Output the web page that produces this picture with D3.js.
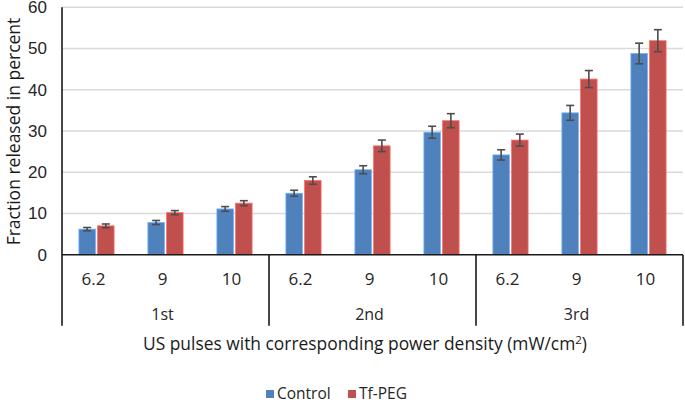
<!DOCTYPE html>
<html>
<head>
<meta charset="utf-8">
<script src="https://cdn.jsdelivr.net/npm/d3@7"></script>
<style>
  body { margin: 0; background: #fff; }
  svg { font-family: 'Open Sans', Lato, sans-serif; }
  .grid line { stroke: #d9d9d9; stroke-width: 1.5; }
  .axis text { fill: #262626; }
</style>
</head>
<body>
<div id="chart"></div>
<script>
const pulses = ['1st', '2nd', '3rd']
const densities = ['6.2', '9', '10']
const seriesNames = ['Control', 'Tf-PEG']
const controlValues = [6.2, 7.8, 11.1, 14.9, 20.6, 29.7, 24.2, 34.4, 48.8]
const controlErrors = [0.4, 0.5, 0.57, 0.73, 0.97, 1.45, 1.25, 1.8, 2.5]
const tfpegValues = [7.0, 10.2, 12.5, 18.0, 26.4, 32.5, 27.8, 42.6, 51.9]
const tfpegErrors = [0.45, 0.5, 0.6, 0.9, 1.4, 1.7, 1.45, 2.06, 2.67]
const yTickValues = [0, 10, 20, 30, 40, 50, 60]

const colors = { 'Control': '#4f81bd', 'Tf-PEG': '#c0504d' }

const width = 685
const height = 403
const margin = { top: 7.3, right: 2, bottom: 148.3, left: 62 }
const chartWidth = width - margin.left - margin.right
const chartHeight = height - margin.top - margin.bottom

// one entry per density within each pulse
const categories = []
pulses.forEach((p, gi) => densities.forEach((d, di) => {
  categories.push({ key: p + '-' + d, pulse: p, density: d, index: gi * densities.length + di })
}))

const series = [
  { name: 'Control', values: controlValues, errors: controlErrors },
  { name: 'Tf-PEG', values: tfpegValues, errors: tfpegErrors }
]

const svg = d3.select('#chart').append('svg')
  .attr('width', width)
  .attr('height', height)

const g = svg.append('g')
  .attr('transform', `translate(${margin.left},${margin.top})`)

const xScale = d3.scaleBand()
  .domain(categories.map((c) => c.key))
  .range([0, chartWidth])

const groupScale = d3.scaleBand()
  .domain(pulses)
  .range([0, chartWidth])

const barWidth = xScale.bandwidth() * 0.225
const barGap = xScale.bandwidth() * 0.06
const inner = d3.scaleBand()
  .domain(seriesNames)
  .range([xScale.bandwidth() / 2 - barWidth - barGap / 2, xScale.bandwidth() / 2 + barWidth + barGap / 2])
  .paddingInner(barGap / (2 * barWidth + barGap))

const yScale = d3.scaleLinear()
  .domain([0, 60])
  .range([chartHeight, 0])

// grid lines
g.append('g').attr('class', 'grid')
  .selectAll('line')
  .data(yTickValues.filter((d) => d > 0))
  .enter().append('line')
  .attr('x1', 0)
  .attr('x2', chartWidth)
  .attr('y1', (d) => yScale(d))
  .attr('y2', (d) => yScale(d))

// y axis
const yAxis = d3.axisLeft(yScale)
  .tickValues(yTickValues)
  .tickSize(0)
  .tickPadding(15)

g.append('g').attr('class', 'axis y')
  .call(yAxis)
  .call((s) => s.select('.domain').remove())
  .selectAll('text')
  .style('font-size', '17px')

// bars
const seriesGroups = g.append('g').attr('class', 'chart-group')
  .selectAll('.series')
  .data(series)
  .enter().append('g')
  .attr('class', 'series')

seriesGroups.selectAll('rect')
  .data((s) => s.values.map((v, i) => ({ name: s.name, value: v, err: s.errors[i], key: categories[i].key })))
  .enter().append('rect')
  .attr('x', (d) => xScale(d.key) + inner(d.name))
  .attr('y', (d) => yScale(d.value))
  .attr('width', inner.bandwidth())
  .attr('height', (d) => yScale(0) - yScale(d.value))
  .attr('fill', (d) => colors[d.name])
  .attr('stroke', (d) => d3.color(colors[d.name]).brighter(0.9))
  .attr('stroke-width', 0.8)

// error bars
const errGroups = seriesGroups.selectAll('.err')
  .data((s) => s.values.map((v, i) => ({ name: s.name, value: v, err: s.errors[i], key: categories[i].key })))
  .enter().append('g')
  .attr('class', 'err')
  .attr('stroke', '#4d4d4d')
  .attr('stroke-width', 1.6)
  .attr('transform', (d) => `translate(${xScale(d.key) + inner(d.name) + inner.bandwidth() / 2},0)`)

errGroups.append('line')
  .attr('y1', (d) => yScale(d.value - d.err))
  .attr('y2', (d) => yScale(d.value + d.err))
errGroups.append('line')
  .attr('x1', -4).attr('x2', 4)
  .attr('y1', (d) => yScale(d.value + d.err))
  .attr('y2', (d) => yScale(d.value + d.err))
errGroups.append('line')
  .attr('x1', -4).attr('x2', 4)
  .attr('y1', (d) => yScale(d.value - d.err))
  .attr('y2', (d) => yScale(d.value - d.err))

// axes lines
const axisColor = '#1a1a1a'
g.append('line')
  .attr('x1', 0).attr('x2', chartWidth)
  .attr('y1', yScale(0)).attr('y2', yScale(0))
  .attr('stroke', axisColor).attr('stroke-width', 1.6)

g.append('line')
  .attr('x1', 0).attr('x2', 0)
  .attr('y1', 0).attr('y2', chartHeight + 71)
  .attr('stroke', axisColor).attr('stroke-width', 1.6)

// category axis: group dividers
const dividers = pulses.map((p) => groupScale(p) + groupScale.bandwidth())
g.append('g').selectAll('line')
  .data(dividers)
  .enter().append('line')
  .attr('x1', (d) => d).attr('x2', (d) => d)
  .attr('y1', chartHeight).attr('y2', chartHeight + 71)
  .attr('stroke', axisColor).attr('stroke-width', 1.6)

// density labels
g.append('g').attr('class', 'axis x')
  .selectAll('text')
  .data(categories)
  .enter().append('text')
  .attr('x', (d) => xScale(d.key) + xScale.bandwidth() / 2 - 3)
  .attr('y', chartHeight + 30)
  .attr('text-anchor', 'middle')
  .style('font-size', '17px')
  .text((d) => d.density)

// pulse labels
g.append('g').attr('class', 'axis x')
  .selectAll('text')
  .data(pulses)
  .enter().append('text')
  .attr('x', (d) => groupScale(d) + groupScale.bandwidth() / 2 - 3)
  .attr('y', chartHeight + 65)
  .attr('text-anchor', 'middle')
  .style('font-size', '16px')
  .text((d) => d)

// axis titles
svg.append('text')
  .attr('transform', 'translate(19.5,131.5) rotate(-90)')
  .attr('text-anchor', 'middle')
  .attr('fill', '#1a1a1a')
  .style('font-size', '17.5px')
  .text('Fraction released in percent')

const xTitle = svg.append('text')
  .attr('x', 365)
  .attr('y', 350)
  .attr('text-anchor', 'middle')
  .attr('fill', '#1a1a1a')
  .style('font-size', '17.4px')
xTitle.append('tspan').text('US pulses with corresponding power density (mW/cm')
xTitle.append('tspan').attr('dy', -6).style('font-size', '11.5px').text('2')
xTitle.append('tspan').attr('dy', 6).text(')')

// legend
const legend = svg.append('g')
  .attr('transform', 'translate(266,394)')
const legendItems = legend.selectAll('g')
  .data(seriesNames)
  .enter().append('g')
  .attr('transform', (d, i) => `translate(${i * 82},0)`)
legendItems.append('rect')
  .attr('x', 0).attr('y', -4)
  .attr('width', 8).attr('height', 8)
  .attr('fill', (d) => colors[d])
legendItems.append('text')
  .attr('x', 11).attr('y', 5)
  .attr('fill', '#262626')
  .style('font-size', '15.5px')
  .text((d) => d)
</script>
</body>
</html>
